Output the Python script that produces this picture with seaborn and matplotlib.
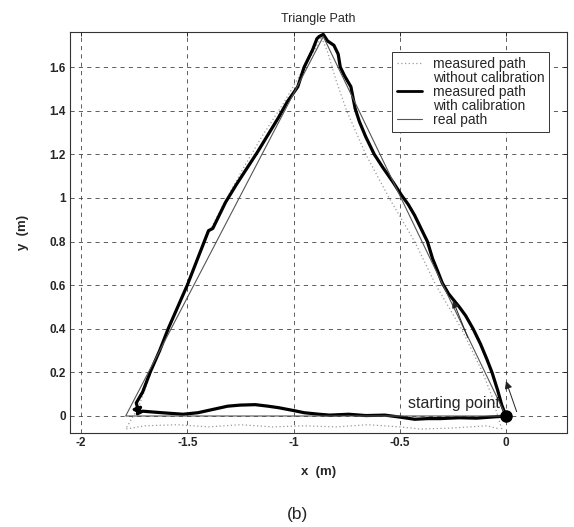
import matplotlib
matplotlib.use("Agg")
import matplotlib.pyplot as plt
from matplotlib.lines import Line2D
import seaborn as sns

# measured path with calibration (thick black)
cal_x = [0.0, -0.02, -0.04, -0.066, -0.09, -0.12, -0.155, -0.19, -0.22, -0.245, -0.27, -0.30,
         -0.32, -0.345, -0.37, -0.40, -0.43, -0.46, -0.49, -0.53, -0.58, -0.62, -0.66, -0.69,
         -0.71, -0.73, -0.76, -0.78, -0.79, -0.81, -0.84, -0.86, -0.88,
         -0.89, -0.91, -0.95, -0.98, -1.03, -1.07, -1.12, -1.17, -1.21, -1.27, -1.32, -1.36,
         -1.38, -1.40, -1.42, -1.46, -1.50, -1.545, -1.59, -1.63, -1.675, -1.71, -1.74,
         -1.73, -1.75, -1.72, -1.735,
         -1.71, -1.62, -1.52, -1.45, -1.38, -1.31, -1.25, -1.18, -1.12, -1.07, -1.00, -0.95,
         -0.88, -0.83, -0.74, -0.66, -0.57, -0.50, -0.43, -0.37, -0.31, -0.22, -0.14, -0.07, 0.0]
cal_y = [0.0, 0.05, 0.12, 0.20, 0.26, 0.33, 0.40, 0.46, 0.50, 0.53, 0.56, 0.61,
         0.66, 0.72, 0.80, 0.86, 0.92, 0.97, 1.01, 1.07, 1.14, 1.20, 1.28, 1.35,
         1.41, 1.51, 1.56, 1.60, 1.66, 1.70, 1.72, 1.75, 1.74,
         1.73, 1.68, 1.60, 1.51, 1.44, 1.37, 1.29, 1.21, 1.15, 1.06, 0.98, 0.90,
         0.86, 0.85, 0.80, 0.70, 0.60, 0.50, 0.40, 0.30, 0.20, 0.11, 0.06,
         0.02, 0.03, 0.04, 0.01,
         0.022, 0.015, 0.008, 0.015, 0.03, 0.045, 0.05, 0.052, 0.045, 0.038, 0.025, 0.015,
         0.008, 0.004, 0.008, 0.002, 0.004, -0.005, -0.015, -0.012, -0.012, -0.008, -0.01, -0.005, 0.0]

# measured path without calibration (light dotted)
raw_x = [-0.02, -0.07, -0.11, -0.21, -0.33, -0.43, -0.55, -0.66, -0.75, -0.80, -0.84, -0.87,
         -0.90, -0.96, -1.05, -1.15, -1.24, -1.33, -1.42, -1.50, -1.59, -1.67, -1.73, -1.79,
         -1.70, -1.55, -1.40, -1.25, -1.10, -0.95, -0.80, -0.65, -0.50, -0.40, -0.25, -0.09, -0.03]
raw_y = [-0.06, 0.10, 0.20, 0.40, 0.60, 0.80, 1.00, 1.20, 1.40, 1.54, 1.67, 1.74,
         1.68, 1.58, 1.43, 1.28, 1.13, 0.97, 0.80, 0.60, 0.40, 0.20, 0.04, -0.06,
         -0.045, -0.04, -0.05, -0.04, -0.05, -0.045, -0.05, -0.04, -0.05, -0.06, -0.055, -0.045, -0.06]

# real path (thin)
real_x = [0.0, -0.86, -1.79, 0.0]
real_y = [0.0, 1.74, 0.0, 0.0]

# direction arrows (tail, head)
arrows = [((0.05, 0.02), (0.0, 0.16)), ((-0.18, 0.36), (-0.25, 0.53))]

start_xy = (0.0, 0.0)

xticks = [-2, -1.5, -1, -0.5, 0]
xtick_labels = ['-2', '-1.5', '-1', '-0.5', '0']
yticks = [0, 0.2, 0.4, 0.6, 0.8, 1.0, 1.2, 1.4, 1.6]
ytick_labels = ['0', '0.2', '0.4', '0.6', '0.8', '1', '1.2', '1.4', '1.6']

sns.set_style('white')
plt.rcParams['font.family'] = ['Liberation Sans', 'DejaVu Sans']

fig = plt.figure(figsize=(5.74, 5.27), dpi=100)
ax = fig.add_axes([70 / 574, 1 - 433 / 527, 497 / 574, 401 / 527])

raw_style = dict(color='#9a9a9a', lw=0.9, linestyle=(0, (1, 2)))
sns.lineplot(x=raw_x, y=raw_y, sort=False, estimator=None, ax=ax, **raw_style)
sns.lineplot(x=cal_x, y=cal_y, sort=False, estimator=None, ax=ax,
             color='black', lw=2.3)
sns.lineplot(x=real_x, y=real_y, sort=False, estimator=None, ax=ax,
             color='#555555', lw=0.8)

for tail, head in arrows:
    ax.annotate('', xy=head, xytext=tail,
                arrowprops=dict(arrowstyle='-|>', color='#222222', lw=0.7,
                                mutation_scale=11, shrinkA=0, shrinkB=0))

ax.plot([start_xy[0]], [start_xy[1]], 'o', color='black', ms=8, zorder=5)
ax.text(-0.03, 0.058, 'starting point', fontsize=11.5, ha='right', va='center')

ax.set_xlim(-2.052, 0.287)
ax.set_ylim(-0.078, 1.761)
ax.set_xticks(xticks)
ax.set_xticklabels(xtick_labels, fontsize=8.5, fontweight='bold')
ax.set_yticks(yticks)
ax.set_yticklabels(ytick_labels, fontsize=8.5, fontweight='bold')
ax.tick_params(direction='in', top=True, right=True, length=3, width=0.7, pad=3)
ax.grid(True, color='#444444', linestyle=(0, (5, 5)), lw=0.6)
for s in ax.spines.values():
    s.set_color('#333333')
    s.set_linewidth(0.8)

ax.set_title('Triangle Path', fontsize=9, pad=7)
ax.set_xlabel('x  (m)', fontsize=9.5, fontweight='bold')
ax.set_ylabel('y  (m)', fontsize=9.5, fontweight='bold')
ax.xaxis.set_label_coords(0.5, -(472 - 433) / 401)
ax.xaxis.label.set_va('center')
ax.yaxis.set_label_coords((23 - 70) / 497, 0.5)
ax.yaxis.label.set_va('center')

handles = [Line2D([], [], **raw_style),
           Line2D([], [], color='none'),
           Line2D([], [], color='black', lw=2.0),
           Line2D([], [], color='none'),
           Line2D([], [], color='#555555', lw=0.8)]
labels = ['measured path', 'without calibration', 'measured path', 'with calibration', 'real path']
leg = ax.legend(handles, labels, loc='upper right', bbox_to_anchor=(0.964, 0.950),
                fontsize=10, frameon=True, fancybox=False, framealpha=1,
                edgecolor='#333333', labelspacing=0.0, handlelength=1.8,
                handletextpad=0.8, borderpad=0.35, borderaxespad=0)
leg.get_frame().set_linewidth(0.7)

fig.text(297 / 574, 1 - 514 / 527, '(b)', fontsize=12.5, ha='center', va='center')

fig.savefig('out.png', dpi=100)
